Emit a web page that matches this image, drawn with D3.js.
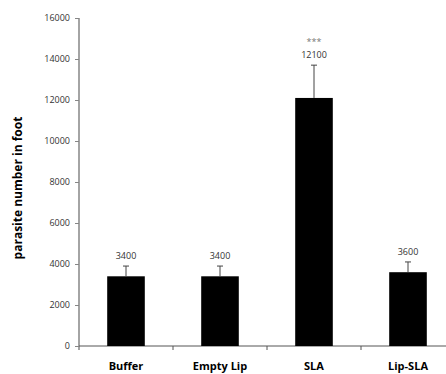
<!DOCTYPE html>
<html>
<head>
<meta charset="utf-8">
<script src="https://cdn.jsdelivr.net/npm/d3@7"></script>
<style>
  html, body { margin: 0; padding: 0; background: #fff; }
  svg { display: block; }
</style>
</head>
<body>
<svg id="chart" width="446" height="374"></svg>
<script>
// Parasite burden per group
const groups = ["Buffer", "Empty Lip", "SLA", "Lip-SLA"];
const means = [3400, 3400, 12100, 3600];
const errors = [500, 500, 1600, 500];
const marks = ["", "", "***", ""];
const yTicks = [0, 2000, 4000, 6000, 8000, 10000, 12000, 14000, 16000];

const svg = d3.select("#chart");
const margin = { left: 79, top: 18, bottom: 28 };
const plotH = 374 - margin.top - margin.bottom;
const bandW = 94;

const x = d3.scaleBand()
  .domain(groups)
  .range([margin.left, margin.left + bandW * groups.length])
  .paddingInner(0.6)
  .paddingOuter(0.3);

const y = d3.scaleLinear()
  .domain([0, 16000])
  .range([margin.top + plotH, margin.top]);

const axisColor = "#868686";

// y axis
const yAxis = svg.append("g")
  .attr("transform", `translate(${margin.left},0)`)
  .call(d3.axisLeft(y).tickValues(yTicks).tickSize(4).tickPadding(5).tickFormat(d3.format("d")));
yAxis.select(".domain").attr("stroke", axisColor).attr("stroke-width", 1.5)
  .attr("d", `M0,${y(16000)}V${y(0) + 4}`);
yAxis.selectAll(".tick line").attr("stroke", axisColor);
yAxis.selectAll(".tick text")
  .attr("fill", "#333")
  .style("font-family", "'Open Sans', sans-serif")
  .style("font-size", "9px");

// x axis with boundary ticks between categories
const xBase = y(0);
svg.append("line")
  .attr("x1", margin.left).attr("x2", margin.left + bandW * groups.length)
  .attr("y1", xBase).attr("y2", xBase)
  .attr("stroke", "#555").attr("stroke-width", 1);
svg.selectAll(".xtick")
  .data(d3.range(1, groups.length + 1))
  .join("line")
  .attr("class", "xtick")
  .attr("x1", i => margin.left + i * bandW)
  .attr("x2", i => margin.left + i * bandW)
  .attr("y1", xBase).attr("y2", xBase + 4)
  .attr("stroke", "#555");

// bars
svg.selectAll(".bar")
  .data(groups)
  .join("rect")
  .attr("class", "bar")
  .attr("x", d => x(d))
  .attr("width", x.bandwidth())
  .attr("y", (d, i) => y(means[i]))
  .attr("height", (d, i) => y(0) - y(means[i]))
  .attr("fill", "#000");

// error bars (upper only)
const cx = d => x(d) + x.bandwidth() / 2;
svg.selectAll(".err")
  .data(groups)
  .join("line")
  .attr("class", "err")
  .attr("x1", cx).attr("x2", cx)
  .attr("y1", (d, i) => y(means[i]))
  .attr("y2", (d, i) => y(means[i] + errors[i]))
  .attr("stroke", "#444").attr("stroke-width", 1);
svg.selectAll(".cap")
  .data(groups)
  .join("line")
  .attr("class", "cap")
  .attr("x1", d => cx(d) - 3).attr("x2", d => cx(d) + 3)
  .attr("y1", (d, i) => y(means[i] + errors[i]))
  .attr("y2", (d, i) => y(means[i] + errors[i]))
  .attr("stroke", "#444").attr("stroke-width", 1);

// value labels
svg.selectAll(".val")
  .data(groups)
  .join("text")
  .attr("class", "val")
  .attr("x", cx)
  .attr("y", (d, i) => y(means[i] + errors[i]) - 7)
  .attr("text-anchor", "middle")
  .attr("fill", "#333")
  .style("font-family", "'Open Sans', sans-serif")
  .style("font-size", "9px")
  .text((d, i) => means[i]);

// significance marks
svg.selectAll(".sig")
  .data(groups)
  .join("text")
  .attr("class", "sig")
  .attr("x", cx)
  .attr("y", (d, i) => y(means[i] + errors[i]) - 20)
  .attr("text-anchor", "middle")
  .attr("fill", "#777")
  .style("font-family", "'Open Sans', sans-serif")
  .style("font-size", "9px")
  .text((d, i) => marks[i]);

// category labels
svg.selectAll(".cat")
  .data(groups)
  .join("text")
  .attr("class", "cat")
  .attr("x", cx)
  .attr("y", 370)
  .attr("text-anchor", "middle")
  .attr("fill", "#000")
  .style("font-family", "'Open Sans', sans-serif")
  .style("font-weight", "700")
  .style("font-size", "11px")
  .text(d => d);

// y axis title
svg.append("text")
  .attr("transform", "translate(22,188) rotate(-90)")
  .attr("text-anchor", "middle")
  .attr("fill", "#000")
  .style("font-family", "'Open Sans', sans-serif")
  .style("font-weight", "700")
  .style("font-size", "12px")
  .text("parasite number in foot");
</script>
</body>
</html>
